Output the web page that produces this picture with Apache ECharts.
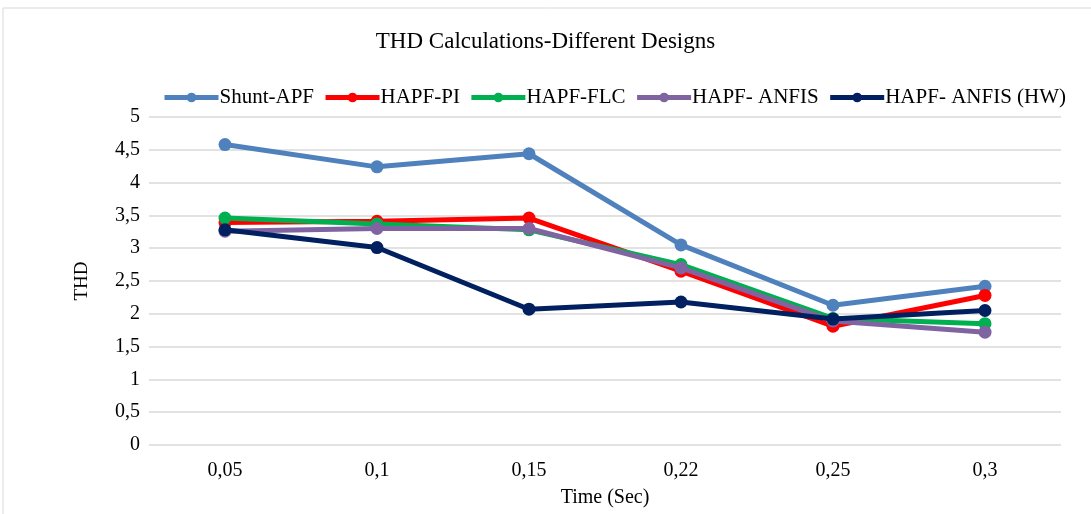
<!DOCTYPE html>
<html><head><meta charset="utf-8">
<script src="https://cdn.jsdelivr.net/npm/echarts@6/dist/echarts.min.js"></script>
<style>html,body{margin:0;padding:0;background:#fff}#c{width:1091px;height:514px}</style>
</head><body><div id="c"></div>
<script>
const categories = ['0,05','0,1','0,15','0,22','0,25','0,3'];
const shuntAPF = [4.58, 4.24, 4.44, 3.05, 2.13, 2.42];
const hapfPI   = [3.39, 3.41, 3.46, 2.65, 1.81, 2.28];
const hapfFLC  = [3.46, 3.37, 3.28, 2.75, 1.93, 1.85];
const hapfANFIS= [3.26, 3.30, 3.30, 2.70, 1.89, 1.72];
const hapfHW   = [3.28, 3.01, 2.07, 2.18, 1.92, 2.05];
const names = ['Shunt-APF','HAPF-PI','HAPF-FLC','HAPF- ANFIS','HAPF- ANFIS (HW)'];
const colors = ['#4F81BD','#FF0000','#00B050','#8064A2','#002060'];
const data = [shuntAPF, hapfPI, hapfFLC, hapfANFIS, hapfHW];
const font = '"Liberation Serif", "Times New Roman", serif';
const chart = echarts.init(document.getElementById('c'));
chart.setOption({
  animation:false,
  backgroundColor:'#fff',
  textStyle:{fontFamily:font},
  graphic:[{type:'rect',shape:{x:3,y:8,width:1100,height:520},style:{fill:'none',stroke:'#d9d9d9',lineWidth:1},silent:true}],
  title:{text:'THD Calculations-Different Designs',left:'center',top:25,textStyle:{fontFamily:font,fontSize:23,fontWeight:'normal',color:'#000'}},
  legend:{top:82,left:157,itemWidth:54,itemHeight:12,itemGap:9,
    lineStyle:{width:5},
    textStyle:{fontFamily:font,fontSize:21,color:'#000',padding:[0,0,0,-4]},
    data:names},
  grid:{left:149,right:30,top:117,bottom:69,containLabel:false},
  xAxis:{type:'category',data:categories,name:'Time (Sec)',nameLocation:'middle',nameGap:43,
    nameTextStyle:{fontFamily:font,fontSize:20,color:'#000'},
    axisLine:{show:false},axisTick:{show:false},
    axisLabel:{fontFamily:font,fontSize:20,color:'#000',margin:16}},
  yAxis:{type:'value',min:0,max:5,interval:0.5,name:'THD',nameLocation:'middle',nameGap:57,
    nameTextStyle:{fontFamily:font,fontSize:19,color:'#000'},
    axisLine:{show:false},axisTick:{show:false},
    splitLine:{lineStyle:{color:'#d9d9d9',width:1.5}},
    axisLabel:{fontFamily:font,fontSize:20,color:'#000',margin:9,formatter:v=>String(v).replace('.',',')}},
  series:data.map((d,i)=>({name:names[i],type:'line',data:d,symbol:'circle',symbolSize:13,
    lineStyle:{width:5,color:colors[i]},itemStyle:{color:colors[i]},z:2+i}))
});
</script></body></html>
